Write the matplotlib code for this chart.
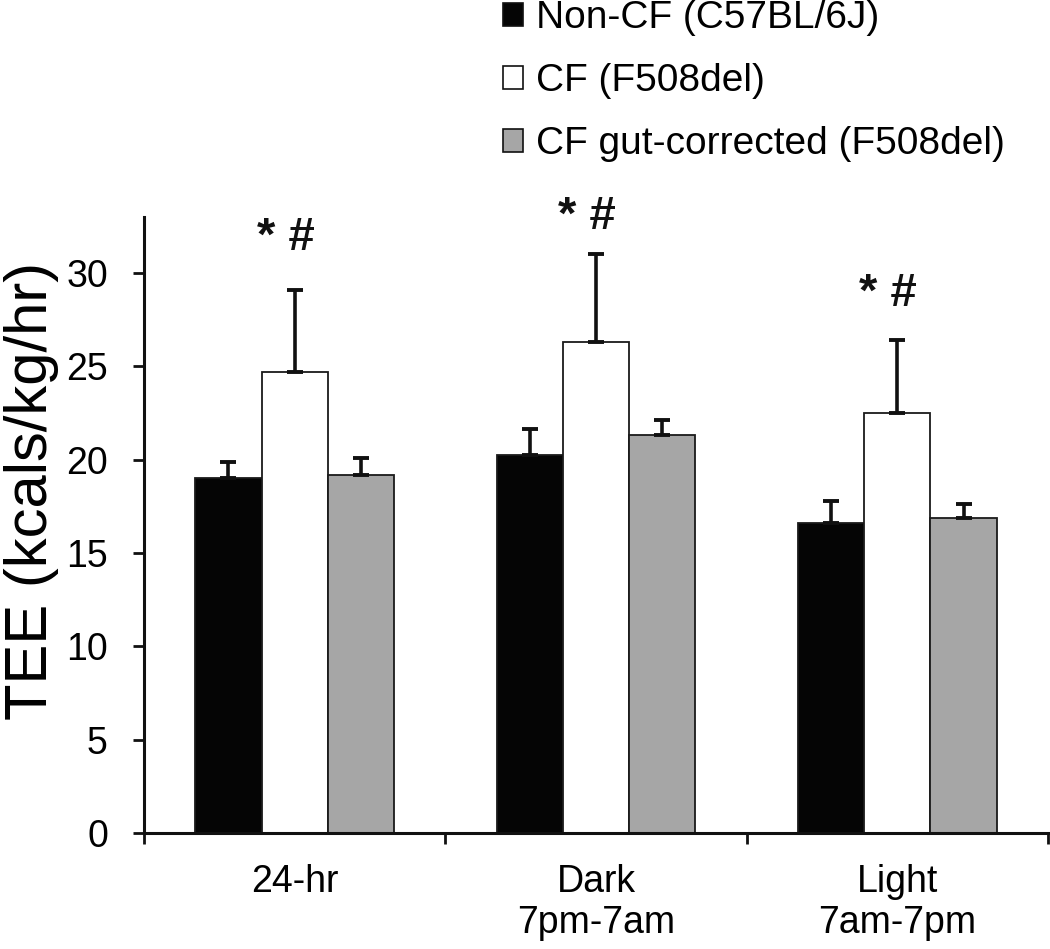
import numpy as np
import matplotlib
matplotlib.use("Agg")
import matplotlib.pyplot as plt
from matplotlib.patches import Patch

plt.rcParams['font.family'] = ['Liberation Sans', 'DejaVu Sans']

categories = ["24-hr", "Dark\n7pm-7am", "Light\n7am-7pm"]
series_names = ["Non-CF (C57BL/6J)", "CF (F508del)", "CF gut-corrected (F508del)"]
non_cf = [19.0, 20.25, 16.6]
non_cf_err = [0.9, 1.4, 1.2]
cf = [24.7, 26.3, 22.5]
cf_err = [4.4, 4.7, 3.9]
cf_gut = [19.2, 21.3, 16.9]
cf_gut_err = [0.9, 0.8, 0.7]
sig_labels = ["* #", "* #", "* #"]
sig_y = [31.9, 33.0, 28.9]
y_ticks = [0, 5, 10, 15, 20, 25, 30]

colors = ["#050505", "#ffffff", "#a6a6a6"]

fig = plt.figure(figsize=(10.5, 9.49), dpi=100)
ax = fig.add_axes([144/1050, 1-833/949, 904/1050, 616/949])

x = np.arange(len(categories))
width = 0.22
offsets = [-width, 0, width]
values = [non_cf, cf, cf_gut]
errs = [non_cf_err, cf_err, cf_gut_err]

for vals, er, off, col in zip(values, errs, offsets, colors):
    ax.bar(x + off, vals, width=width, color=col, edgecolor="#1a1a1a",
           linewidth=1.3, zorder=2)
    ax.errorbar(x + off, vals, yerr=[np.zeros(len(vals)), er], fmt='none',
                ecolor="#111111", elinewidth=2.6, capsize=5.5, capthick=2.8,
                zorder=3)

for xi, lab, yv in zip(x, sig_labels, sig_y):
    ax.text(xi - 0.03, yv, lab, ha='center', va='center', fontsize=34,
            fontweight='bold', color="#111111", clip_on=False)

ax.set_xlim(-0.5, 2.5)
ax.set_ylim(0, 33)
ax.set_yticks(y_ticks)
ax.set_yticklabels([str(t) for t in y_ticks])
ax.tick_params(axis='y', direction='out', length=8, width=2, pad=18,
               labelsize=27, color="#111111")

ax.set_xticks([-0.5, 0.5, 1.5, 2.5])
ax.set_xticklabels([])
ax.tick_params(axis='x', which='major', direction='out', length=8, width=2,
               color="#111111")
ax.set_xticks(x, minor=True)
ax.set_xticklabels(categories, minor=True)
ax.tick_params(axis='x', which='minor', length=0, pad=22, labelsize=27)

for s in ['top', 'right']:
    ax.spines[s].set_visible(False)
for s in ['left', 'bottom']:
    ax.spines[s].set_linewidth(2.2)
    ax.spines[s].set_color("#111111")

ax.set_ylabel("TEE (kcals/kg/hr)", fontsize=43)
ax.yaxis.set_label_coords(-0.094, 0.555)

handles = [Patch(facecolor=c, edgecolor="#111111", linewidth=1.2) for c in colors]
fig.legend(handles, series_names, loc='upper left',
           bbox_to_anchor=(503/1050, 1.0), frameon=False, fontsize=28,
           handlelength=0.52, handleheight=0.52, handletextpad=0.32,
           labelspacing=0.7, borderpad=0, borderaxespad=0)

fig.savefig("out.png", dpi=100)
